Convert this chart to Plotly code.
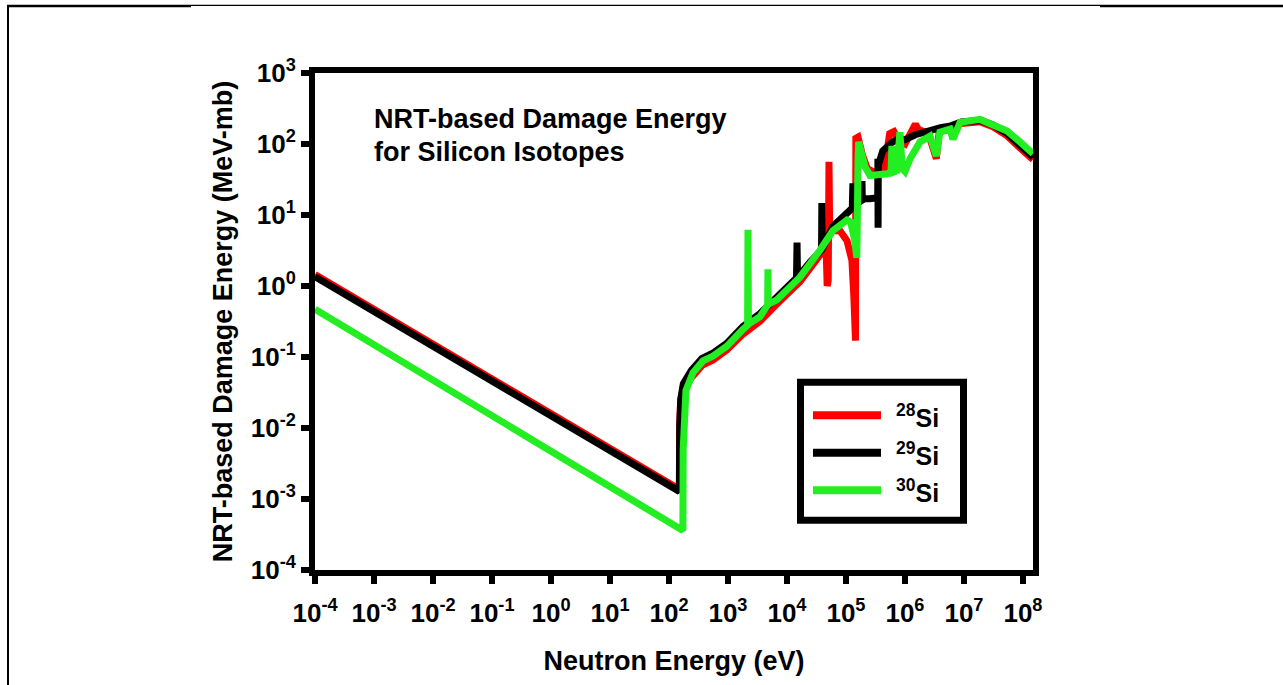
import plotly.graph_objects as go

# ---------------- data ----------------
# Neutron energy (eV) and NRT damage energy (MeV-mb) for each isotope
si28_energy = [1e-4, 150, 152, 158, 175, 250, 370, 550, 950, 1800, 3500, 6800,
               1.66e4, 3.6e4, 4.6e4, 4.8e4, 5.0e4, 5.15e4, 5.3e4, 6.0e4, 7.9e4,
               1.04e5, 1.26e5, 1.36e5, 1.42e5, 1.45e5, 1.47e5, 1.6e5, 1.9e5,
               2.3e5, 3.0e5, 4.5e5, 5.5e5, 6.5e5, 8.0e5, 1.0e6, 1.5e6, 1.7e6,
               2.5e6, 3.4e6, 3.8e6, 6.0e6, 9.0e6, 1.9e7, 3.1e7, 5.4e7, 8.9e7, 1.48e8]
si28_damage = [1.45, 1.37e-3, 0.012, 0.025, 0.038, 0.053, 0.077, 0.09, 0.125, 0.21,
               0.32, 0.56, 1.15, 2.7, 3.5, 1.0, 1.2, 56, 5.5, 6.0, 6.0, 4.35, 2.3,
               0.7, 0.17, 0.17, 120, 125, 70, 45, 40, 45, 140, 150, 110, 100, 190,
               160, 140, 62, 150, 160, 195, 205, 175, 130, 88, 60]

si29_energy = [1e-4, 150, 152, 158, 175, 240, 360, 540, 950, 1800, 3500, 6800,
               1.2e4, 1.45e4, 1.48e4, 1.51e4, 2.5e4, 3.85e4, 3.9e4, 3.95e4, 6.0e4,
               1.0e5, 1.28e5, 1.31e5, 1.34e5, 1.6e5, 1.85e5, 1.87e5, 1.89e5, 2.5e5,
               3.45e5, 3.48e5, 3.5e5, 3.53e5, 4.2e5, 5.0e5, 6.0e5, 8.0e5, 1.0e6,
               1.5e6, 2.5e6, 4.0e6, 6.0e6, 9.0e6, 1.9e7, 3.1e7, 5.4e7, 8.9e7, 1.48e8]
si29_damage = [1.35, 1.28e-3, 0.01, 0.025, 0.042, 0.065, 0.095, 0.112, 0.155, 0.27,
               0.41, 0.7, 1.1, 1.3, 4.1, 1.32, 2.2, 3.2, 14.7, 3.3, 6.9, 10.5, 12.5,
               28, 14, 15, 16, 30, 17, 17, 17.5, 62, 6.6, 50, 80, 95, 105, 120, 115,
               135, 155, 170, 180, 205, 215, 185, 140, 95, 65]

si30_energy = [1e-4, 172, 174, 180, 194, 255, 377, 557, 962, 1796, 2150, 2183, 2220,
               3486, 4700, 4760, 4820, 6770, 1.66e4, 3.6e4, 6.0e4, 1.04e5, 1.2e5,
               1.4e5, 1.53e5, 1.6e5, 1.64e5, 2.1e5, 2.55e5, 4.95e5, 5.8e5, 6.0e5,
               6.3e5, 7.3e5, 8.2e5, 9.0e5, 1.0e6, 1.22e6, 1.8e6, 2.65e6, 3.4e6,
               3.9e6, 5.8e6, 6.5e6, 8.6e6, 1.87e7, 3.1e7, 5.4e7, 8.9e7, 1.48e8]
si30_damage = [0.47, 3.6e-4, 0.005, 0.0151, 0.0337, 0.060, 0.088, 0.103, 0.142, 0.245,
               0.28, 6.2, 0.29, 0.37, 0.54, 1.72, 0.55, 0.64, 1.33, 3.16, 6.0, 8.5,
               8.0, 4.5, 2.5, 60, 107, 48, 36, 38, 40, 94, 40, 42, 147, 45, 41, 62,
               107, 129, 68, 147, 162, 117, 202, 222, 190, 152, 107, 73]

isotope_labels = ["<sup>28</sup>Si", "<sup>29</sup>Si", "<sup>30</sup>Si"]
isotope_colors = ["#FF0000", "#000000", "#22EE22"]

x_tick_values = [1e-4, 1e-3, 1e-2, 1e-1, 1e0, 1e1, 1e2, 1e3, 1e4, 1e5, 1e6, 1e7, 1e8]
x_tick_text = ["10<sup>-4</sup>", "10<sup>-3</sup>", "10<sup>-2</sup>", "10<sup>-1</sup>",
               "10<sup>0</sup>", "10<sup>1</sup>", "10<sup>2</sup>", "10<sup>3</sup>",
               "10<sup>4</sup>", "10<sup>5</sup>", "10<sup>6</sup>", "10<sup>7</sup>",
               "10<sup>8</sup>"]
y_tick_values = [1e-4, 1e-3, 1e-2, 1e-1, 1e0, 1e1, 1e2, 1e3]
y_tick_text = ["10<sup>-4</sup>", "10<sup>-3</sup>", "10<sup>-2</sup>", "10<sup>-1</sup>",
               "10<sup>0</sup>", "10<sup>1</sup>", "10<sup>2</sup>", "10<sup>3</sup>"]

# ---------------- layout geometry (pixels) ----------------
W, H = 1283, 685
PL, PR, PT, PB = 315, 1033, 73, 577
FONT = "Liberation Sans, Arial, sans-serif"


def fx(x):
    return (x - PL) / (PR - PL)


def fy(y):
    return (PB - y) / (PB - PT)


fig = go.Figure()
series = [(si28_energy, si28_damage), (si29_energy, si29_damage), (si30_energy, si30_damage)]
for (e, d), name, col in zip(series, isotope_labels, isotope_colors):
    fig.add_trace(go.Scatter(x=e, y=d, mode="lines", name=name,
                             line=dict(color=col, width=7),
                             showlegend=False, hoverinfo="skip"))

axis_common = dict(type="log", showgrid=False, zeroline=False, showline=True,
                   linecolor="black", linewidth=6, mirror=True,
                   ticks="outside", ticklen=8, tickwidth=6, tickcolor="black",
                   tickfont=dict(family=FONT, size=26, color="black", weight="bold"))

fig.update_xaxes(range=[-4, 8.17], tickvals=x_tick_values, ticktext=x_tick_text,
                 ticklabelstandoff=7,
                 title=dict(text="Neutron Energy (eV)", standoff=26,
                            font=dict(family=FONT, size=27, color="black", weight="bold")),
                 **axis_common)
fig.update_yaxes(range=[-4, 3], tickvals=y_tick_values, ticktext=y_tick_text,
                 title=dict(text="NRT-based Damage Energy (MeV-mb)", standoff=12,
                            font=dict(family=FONT, size=27, color="black", weight="bold")),
                 **axis_common)

annotations = [
    dict(text="NRT-based Damage Energy", x=fx(372), y=fy(120), xanchor="left", yanchor="middle"),
    dict(text="for Silicon Isotopes", x=fx(372), y=fy(153), xanchor="left", yanchor="middle"),
]
for a in annotations:
    a.update(xref="paper", yref="paper", showarrow=False,
             font=dict(family=FONT, size=27, color="black", weight="bold"))

shapes = []
# legend box
shapes.append(dict(type="rect", xref="paper", yref="paper",
                   x0=fx(800.5), x1=fx(963.5), y0=fy(526.5), y1=fy(386.5),
                   line=dict(color="black", width=7), fillcolor="white", layer="above"))
legend_rows = [420, 458, 496]
for row, name, col in zip(legend_rows, isotope_labels, isotope_colors):
    shapes.append(dict(type="line", xref="paper", yref="paper",
                       x0=fx(813), x1=fx(881), y0=fy(row), y1=fy(row),
                       line=dict(color=col, width=8), layer="above"))
    annotations.append(dict(text=name, x=fx(894), y=fy(row + 1), xref="paper", yref="paper",
                            xanchor="left", yanchor="middle", showarrow=False,
                            font=dict(family=FONT, size=25, color="black", weight="bold")))

# page frame lines
shapes += [
    dict(type="line", xref="paper", yref="paper", x0=fx(8), x1=fx(8), y0=fy(4), y1=fy(700),
         line=dict(color="black", width=2)),
    dict(type="line", xref="paper", yref="paper", x0=fx(7), x1=fx(191), y0=fy(5), y1=fy(5),
         line=dict(color="black", width=2.5)),
    dict(type="line", xref="paper", yref="paper", x0=fx(191), x1=fx(1100), y0=fy(4.5), y1=fy(4.5),
         line=dict(color="black", width=1.3)),
    dict(type="line", xref="paper", yref="paper", x0=fx(1100), x1=fx(1290), y0=fy(5), y1=fy(5),
         line=dict(color="black", width=2.5)),
]

fig.update_layout(width=W, height=H, autosize=False,
                  margin=dict(l=PL, r=W - PR, t=PT, b=H - PB, pad=0),
                  paper_bgcolor="white", plot_bgcolor="white",
                  showlegend=False, annotations=annotations, shapes=shapes)

fig.write_html("out.html")
